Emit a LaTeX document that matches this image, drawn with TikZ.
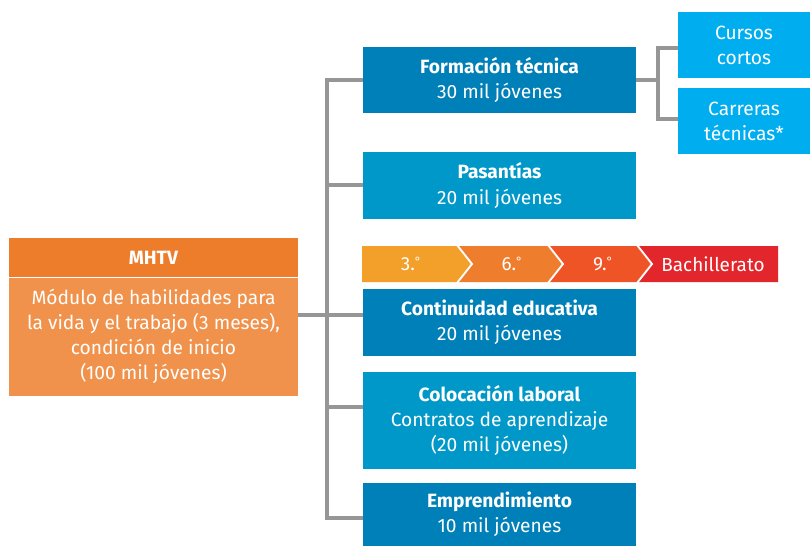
\documentclass[tikz,border=0pt]{standalone}
\usepackage{fontspec}
\setmainfont{Fira Sans}
\usetikzlibrary{calc}
\definecolor{dblue}{HTML}{0080B8}
\definecolor{mblue}{HTML}{0098C8}
\definecolor{lblue}{HTML}{00AEEF}
\definecolor{hdr}{HTML}{ED7D2B}
\definecolor{bdy}{HTML}{F0924B}
\definecolor{cA}{HTML}{F3A02A}
\definecolor{cB}{HTML}{EE7E2E}
\definecolor{cC}{HTML}{EF5426}
\definecolor{cD}{HTML}{E2262B}
\definecolor{gline}{HTML}{969696}
\tikzset{
  box/.style={rectangle, inner sep=0pt, text=white, align=center,
    font=\fontsize{14.4}{18.9}\selectfont, minimum width=204.75pt},
  conn/.style={draw=gline, line width=2.6pt, line join=miter},
  chev/.style={text=white, font=\fontsize{14.2}{16}\selectfont}
}
\newcommand{\ord}{{\fontsize{9}{9}\selectfont\raisebox{0.75ex}{°}}}
\begin{document}
\begin{tikzpicture}[x=0.75pt,y=-0.75pt]
\useasboundingbox (0,0) rectangle (810,546);
% main boxes
\node[box, fill=dblue, minimum height=49.5pt] (form) at (499.5,80)
  {\textbf{Formación técnica}\\30 mil jóvenes};
\node[box, fill=mblue, minimum height=50.25pt] (pas) at (499.5,185.5)
  {\textbf{Pasantías}\\20 mil jóvenes};
\node[box, fill=dblue, minimum height=50.25pt] (cont) at (499.5,322.5)
  {\textbf{Continuidad educativa}\\20 mil jóvenes};
\node[box, fill=mblue, minimum height=72.75pt] (col) at (499.5,420.5)
  {\textbf{Colocación laboral}\\Contratos de aprendizaje\\(20 mil jóvenes)};
\node[box, fill=dblue, minimum height=47.25pt] (emp) at (499.5,514.5)
  {\textbf{Emprendimiento}\\10 mil jóvenes};
% right boxes
\node[box, fill=lblue, minimum width=99pt, minimum height=49.5pt] (curs) at (744,45)
  {Cursos\\cortos};
\node[box, fill=lblue, minimum width=99pt, minimum height=49.5pt] (carr) at (744,121)
  {Carreras\\técnicas*};
% MHTV
\node[box, fill=hdr, minimum width=216.75pt, minimum height=29.25pt] (mhdr) at (153.5,257.5)
  {\textbf{MHTV}};
\node[box, fill=bdy, minimum width=216.75pt, minimum height=88.5pt, anchor=north] (mbody) at (mhdr.south)
  {Módulo de habilidades para\\la vida y el trabajo (3 meses),\\condición de inicio\\(100 mil jóvenes)};
% chevrons
\fill[cA] (362,246) -- (457,246) -- (472,264) -- (457,282) -- (362,282) -- cycle;
\fill[cB] (457,246) -- (548,246) -- (563,264) -- (548,282) -- (457,282) -- (472,264) -- cycle;
\fill[cC] (548,246) -- (637,246) -- (652,264) -- (637,282) -- (548,282) -- (563,264) -- cycle;
\fill[cD] (637,246) -- (778,246) -- (778,282) -- (637,282) -- (652,264) -- cycle;
\draw[white, line width=1.4pt] (457,245) -- (472,264) -- (457,283);
\draw[white, line width=1.4pt] (548,245) -- (563,264) -- (548,283);
\draw[white, line width=1.4pt] (637,245) -- (652,264) -- (637,283);
\node[chev] (c3) at (411,264) {3.\ord};
\node[chev] (c6) at (512,264) {6.\ord};
\node[chev] (c9) at (603,264) {9.\ord};
\node[chev] (cb) at (713,264) {Bachillerato};
% connectors
\coordinate (stop) at (327,80);
\coordinate (sbot) at (327,518);
\coordinate (smid) at (327,315);
\coordinate (spas) at (327,185);
\coordinate (scol) at (327,407);
\draw[conn] (form.west) -- (stop) -- (sbot) -- (emp.west |- sbot);
\draw[conn] (spas) -- (pas.west |- spas);
\draw[conn] (scol) -- (col.west |- scol);
\draw[conn] (mbody.east |- smid) -- (cont.west |- smid);
\coordinate (rtop) at (658,48);
\coordinate (rbot) at (658,119);
\draw[conn] (form.east) -- (form.east -| rtop);
\draw[conn] (curs.west |- rtop) -- (rtop) -- (rbot) -- (carr.west |- rbot);
\end{tikzpicture}
\end{document}
